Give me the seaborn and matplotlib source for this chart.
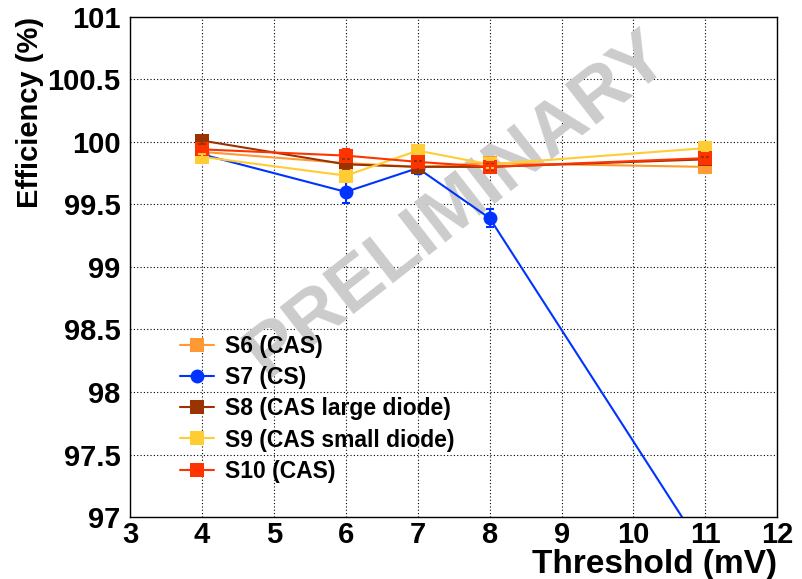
import matplotlib
matplotlib.use("Agg")
import matplotlib.pyplot as plt
import seaborn as sns
import pandas as pd
import numpy as np
from matplotlib.ticker import MultipleLocator

sns.set_style("white")
plt.rcParams['font.family'] = ['Liberation Sans', 'DejaVu Sans']
plt.rcParams['text.color'] = 'black'
plt.rcParams['xtick.color'] = 'black'
plt.rcParams['ytick.color'] = 'black'
plt.rcParams['axes.labelcolor'] = 'black'

# ---- data ----
thresholds = [4, 6, 7, 8, 11]
series_names = ["S6 (CAS)", "S7 (CS)", "S8 (CAS large diode)", "S9 (CAS small diode)", "S10 (CAS)"]
s6_eff = [99.92, 99.83, 99.80, 99.83, 99.80]
s6_err = [0.03, 0.03, 0.03, 0.03, 0.05]
s7_eff = [99.90, 99.60, 99.79, 99.39, 96.71]
s7_err = [0.02, 0.09, 0.05, 0.07, 0.10]
s8_eff = [100.01, 99.82, 99.80, 99.80, 99.86]
s8_err = [0.03, 0.04, 0.05, 0.03, 0.02]
s9_eff = [99.88, 99.73, 99.93, 99.82, 99.95]
s9_err = [0.02, 0.04, 0.03, 0.03, 0.02]
s10_eff = [99.94, 99.89, 99.84, 99.80, 99.87]
s10_err = [0.02, 0.05, 0.04, 0.04, 0.03]

colors = ["#ff9933", "#0033ff", "#993300", "#ffcc33", "#ff3300"]
markers = ["s", "o", "s", "s", "s"]

effs = [s6_eff, s7_eff, s8_eff, s9_eff, s10_eff]
errs = [s6_err, s7_err, s8_err, s9_err, s10_err]

rows = []
for name, e in zip(series_names, effs):
    for t, v in zip(thresholds, e):
        rows.append({"Threshold": t, "Efficiency": v, "Sensor": name})
df = pd.DataFrame(rows)

fig = plt.figure(figsize=(8.03, 5.79), dpi=100)
ax = fig.add_axes([0.162, 0.107, 0.806, 0.864])

ax.set_xlim(3, 12)
ax.set_ylim(97, 101)

# watermark
ax.text(0.505, 0.625, "PRELIMINARY", transform=ax.transAxes, rotation=38,
        fontsize=54, fontweight="bold", color="#cccccc", ha="center", va="center",
        zorder=1.5)

for i, (name, e, er) in enumerate(zip(series_names, effs, errs)):
    ax.errorbar(thresholds, e, yerr=er, fmt="none", ecolor=colors[i],
                elinewidth=1.5, capsize=3, capthick=1.5, zorder=3 + i)

sns.lineplot(data=df, x="Threshold", y="Efficiency", hue="Sensor", style="Sensor",
             hue_order=series_names, style_order=series_names,
             palette=colors, markers=markers, dashes=False, markersize=10,
             markeredgewidth=0, linewidth=1.5, ax=ax, zorder=4)

# grid and ticks
ax.xaxis.set_major_locator(MultipleLocator(1))
ax.xaxis.set_minor_locator(MultipleLocator(0.2))
ax.yaxis.set_major_locator(MultipleLocator(0.5))
ax.yaxis.set_minor_locator(MultipleLocator(0.1))
ax.grid(True, which="major", color="black", linestyle=(0, (1, 2)), linewidth=0.8, zorder=1)
ax.set_axisbelow(True)
ax.tick_params(which="major", direction="in", length=12, width=1, labelsize=21,
               top=False, right=False, pad=3)
ax.tick_params(axis="y", which="major", pad=7)
ax.tick_params(which="minor", direction="in", length=6, width=1, top=False, right=False)
ax.set_xticks(list(range(3, 13)))
ax.set_xticklabels([str(v) for v in range(3, 13)], fontweight="bold")
ax.set_yticks([97, 97.5, 98, 98.5, 99, 99.5, 100, 100.5, 101])
ax.set_yticklabels(["97", "97.5", "98", "98.5", "99", "99.5", "100", "100.5", "101"], fontweight="bold")
ax.set_xlim(3, 12)
ax.set_ylim(97, 101)
for s in ax.spines.values():
    s.set_color("black")
    s.set_linewidth(1)

ax.set_xlabel("Threshold (mV)", fontsize=24, fontweight="bold", loc="right", labelpad=0)
ax.set_ylabel("Efficiency (%)", fontsize=21, fontweight="bold", loc="top", labelpad=2)

leg = ax.legend(loc="lower left", bbox_to_anchor=(0.077, 0.069), frameon=False,
                prop={"weight": "bold", "size": 16.5}, handlelength=1.5,
                labelspacing=0.35, handletextpad=0.45, borderpad=0, borderaxespad=0)
leg.set_title(None)

fig.savefig("out.png", dpi=100)
